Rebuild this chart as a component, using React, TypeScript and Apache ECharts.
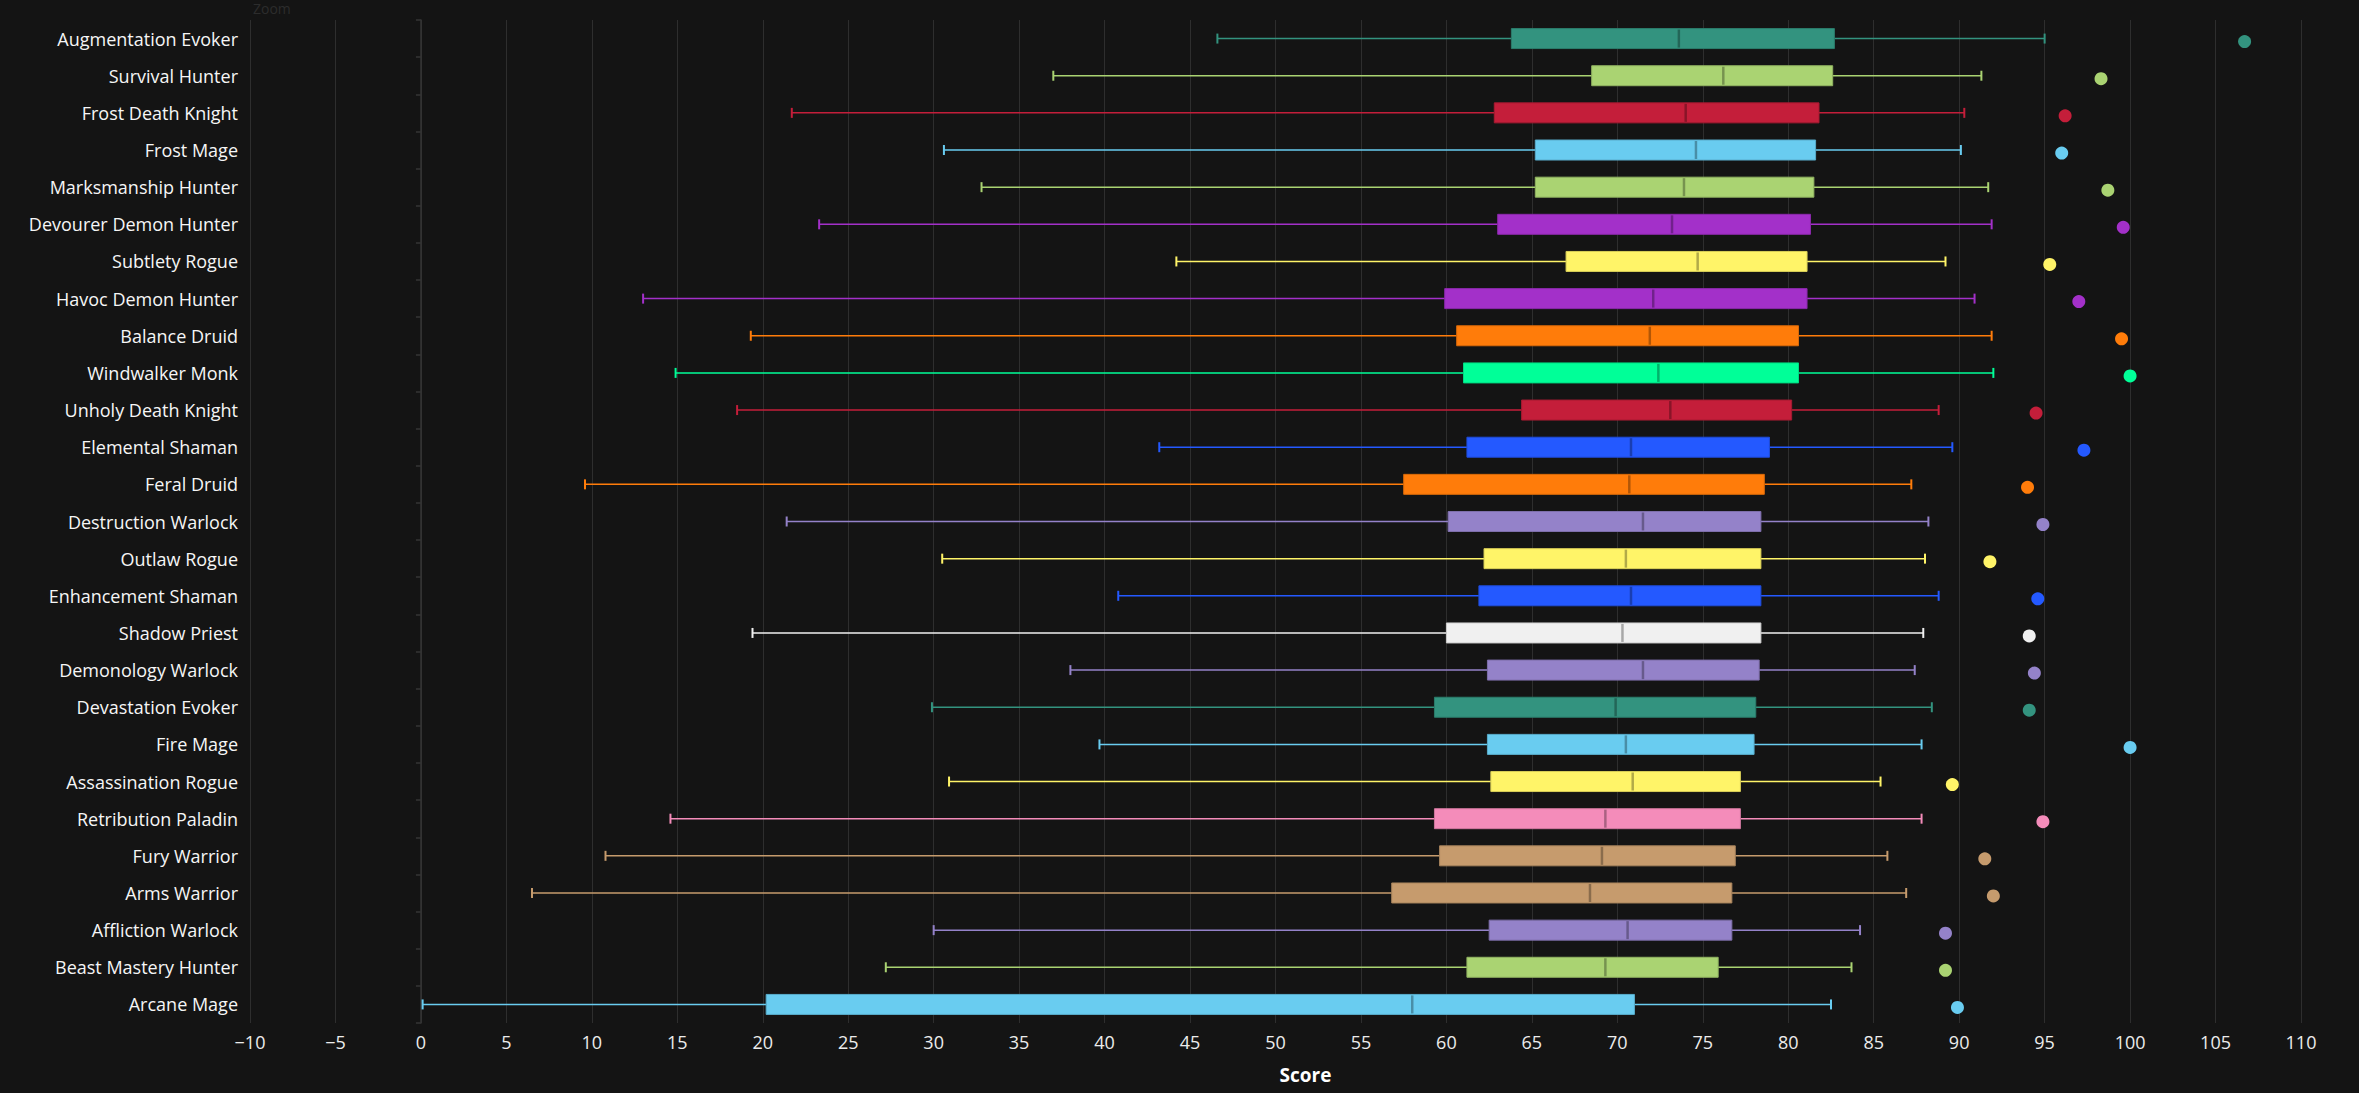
import { useEffect, useRef } from 'react';
import * as echarts from 'echarts';

const CATEGORIES = [
  'Augmentation Evoker', 'Survival Hunter', 'Frost Death Knight', 'Frost Mage',
  'Marksmanship Hunter', 'Devourer Demon Hunter', 'Subtlety Rogue', 'Havoc Demon Hunter',
  'Balance Druid', 'Windwalker Monk', 'Unholy Death Knight', 'Elemental Shaman',
  'Feral Druid', 'Destruction Warlock', 'Outlaw Rogue', 'Enhancement Shaman',
  'Shadow Priest', 'Demonology Warlock', 'Devastation Evoker', 'Fire Mage',
  'Assassination Rogue', 'Retribution Paladin', 'Fury Warrior', 'Arms Warrior',
  'Affliction Warlock', 'Beast Mastery Hunter', 'Arcane Mage',
];

// whisker low, Q1, median, Q3, whisker high, top score (dot)
const LOWS = [46.6, 37.0, 21.7, 30.6, 32.8, 23.3, 44.2, 13.0, 19.3, 14.9, 18.5, 43.2, 9.6, 21.4, 30.5, 40.8, 19.4, 38.0, 29.9, 39.7, 30.9, 14.6, 10.8, 6.5, 30.0, 27.2, 0.1];
const Q1S = [63.8, 68.5, 62.8, 65.2, 65.2, 63.0, 67.0, 59.9, 60.6, 61.0, 64.4, 61.2, 57.5, 60.1, 62.2, 61.9, 60.0, 62.4, 59.3, 62.4, 62.6, 59.3, 59.6, 56.8, 62.5, 61.2, 20.2];
const MEDIANS = [73.6, 76.2, 74.0, 74.6, 73.9, 73.2, 74.7, 72.1, 71.9, 72.4, 73.1, 70.8, 70.7, 71.5, 70.5, 70.8, 70.3, 71.5, 69.9, 70.5, 70.9, 69.3, 69.1, 68.4, 70.6, 69.3, 58.0];
const Q3S = [82.7, 82.6, 81.8, 81.6, 81.5, 81.3, 81.1, 81.1, 80.6, 80.6, 80.2, 78.9, 78.6, 78.4, 78.4, 78.4, 78.4, 78.3, 78.1, 78.0, 77.2, 77.2, 76.9, 76.7, 76.7, 75.9, 71.0];
const HIGHS = [95.0, 91.3, 90.3, 90.1, 91.7, 91.9, 89.2, 90.9, 91.9, 92.0, 88.8, 89.6, 87.2, 88.2, 88.0, 88.8, 87.9, 87.4, 88.4, 87.8, 85.4, 87.8, 85.8, 86.9, 84.2, 83.7, 82.5];
const TOPS = [106.7, 98.3, 96.2, 96.0, 98.7, 99.6, 95.3, 97.0, 99.5, 100.0, 94.5, 97.3, 94.0, 94.9, 91.8, 94.6, 94.1, 94.4, 94.1, 100.0, 89.6, 94.9, 91.5, 92.0, 89.2, 89.2, 89.9];

const X_MIN = -10;
const X_MAX = 110;
const X_STEP = 5;

// class colours, matched on the spec name (order matters: "Demon Hunter" before "Hunter")
const CLASS_COLORS: Array<[string, string]> = [
  ['Evoker', '#33937F'],
  ['Demon Hunter', '#A330C9'],
  ['Hunter', '#AAD372'],
  ['Death Knight', '#C41E3A'],
  ['Mage', '#69CCF0'],
  ['Rogue', '#FFF468'],
  ['Druid', '#FF7C0A'],
  ['Monk', '#00FF98'],
  ['Shaman', '#2459FF'],
  ['Warlock', '#9482C9'],
  ['Priest', '#F0F0F0'],
  ['Paladin', '#F48CBA'],
  ['Warrior', '#C69B6D'],
];

const BG = '#141414';
const FONT = '"Open Sans", "Noto Sans", sans-serif';

function colorFor(name: string): string {
  const hit = CLASS_COLORS.find(([k]) => name.includes(k));
  return hit ? hit[1] : '#cccccc';
}

function darken(hex: string, f: number): string {
  const n = parseInt(hex.slice(1), 16);
  const r = Math.round(((n >> 16) & 255) * f);
  const g = Math.round(((n >> 8) & 255) * f);
  const b = Math.round((n & 255) * f);
  return `rgb(${r},${g},${b})`;
}

function renderBox(params: any, api: any) {
  const idx = api.value(0);
  const pLow = api.coord([api.value(1), idx]);
  const pQ1 = api.coord([api.value(2), idx]);
  const pMed = api.coord([api.value(3), idx]);
  const pQ3 = api.coord([api.value(4), idx]);
  const pHigh = api.coord([api.value(5), idx]);
  const y = pQ1[1];
  const boxH = 20;
  const capH = 10;
  const color = colorFor(CATEGORIES[idx]);
  const whisker = { stroke: color, lineWidth: 1.5 };
  return {
    type: 'group',
    children: [
      { type: 'line', shape: { x1: pLow[0], y1: y, x2: pQ1[0], y2: y }, style: whisker },
      { type: 'line', shape: { x1: pQ3[0], y1: y, x2: pHigh[0], y2: y }, style: whisker },
      { type: 'line', shape: { x1: pLow[0], y1: y - capH / 2, x2: pLow[0], y2: y + capH / 2 }, style: { stroke: color, lineWidth: 2 } },
      { type: 'line', shape: { x1: pHigh[0], y1: y - capH / 2, x2: pHigh[0], y2: y + capH / 2 }, style: { stroke: color, lineWidth: 2 } },
      {
        type: 'rect',
        shape: { x: pQ1[0], y: y - boxH / 2, width: pQ3[0] - pQ1[0], height: boxH },
        style: { fill: color, stroke: darken(color, 0.85), lineWidth: 1 },
      },
      {
        type: 'line',
        shape: { x1: pMed[0], y1: y - boxH / 2 + 1, x2: pMed[0], y2: y + boxH / 2 - 1 },
        style: { stroke: 'rgba(0,0,0,0.3)', lineWidth: 2.5 },
      },
    ],
  };
}

function buildOption(): echarts.EChartsOption {
  const boxData = CATEGORIES.map((_, i) => [i, LOWS[i], Q1S[i], MEDIANS[i], Q3S[i], HIGHS[i]]);
  const dotData = CATEGORIES.map((_, i) => [TOPS[i], i]);

  return {
    animation: false,
    backgroundColor: BG,
    textStyle: { fontFamily: FONT },
    grid: { left: 250, right: 58, top: 20, bottom: 70 },
    graphic: [
      {
        type: 'text',
        left: 253,
        top: 1,
        style: { text: 'Zoom', fill: '#2c2c2c', fontSize: 14, fontFamily: FONT },
      },
    ],
    xAxis: {
      type: 'value',
      min: X_MIN,
      max: X_MAX,
      interval: X_STEP,
      name: 'Score',
      nameLocation: 'middle',
      nameGap: 42,
      nameTextStyle: { color: '#ffffff', fontSize: 19, fontWeight: 'bold', fontFamily: FONT, padding: [0, 0, 0, 60] },
      axisLine: { show: false },
      axisTick: { show: false },
      axisLabel: {
        color: '#ececec',
        fontSize: 18,
        margin: 10,
        fontFamily: FONT,
        formatter: (v: number) => String(v).replace('-', '\u2212'),
      },
      splitLine: { show: true, lineStyle: { color: '#2e2e2e', width: 1 } },
    },
    yAxis: {
      type: 'category',
      data: CATEGORIES,
      inverse: true,
      axisLine: { show: true, lineStyle: { color: '#353535', width: 1.5 } },
      axisTick: { show: true, length: 5, lineStyle: { color: '#353535', width: 1.5 } },
      axisLabel: { color: '#f6f6f6', fontSize: 18, margin: 12, fontFamily: FONT },
      splitLine: { show: false },
    },
    series: [
      {
        type: 'custom',
        renderItem: renderBox as any,
        encode: { x: [1, 2, 3, 4, 5], y: 0 },
        data: boxData,
        z: 2,
      },
      {
        type: 'scatter',
        data: dotData,
        symbol: 'circle',
        symbolSize: 13,
        symbolOffset: [0, 3],
        itemStyle: { color: (p: any) => colorFor(CATEGORIES[p.dataIndex]), opacity: 1 },
        z: 3,
      },
    ],
  };
}

export default function App() {
  const ref = useRef<HTMLDivElement | null>(null);

  useEffect(() => {
    document.body.style.margin = '0';
    document.body.style.background = BG;
    if (!ref.current) return;
    const chart = echarts.init(ref.current, undefined, { renderer: 'svg' });
    chart.setOption(buildOption());
    return () => {
      chart.dispose();
    };
  }, []);

  return <div ref={ref} style={{ width: 2359, height: 1093, background: BG }} />;
}
